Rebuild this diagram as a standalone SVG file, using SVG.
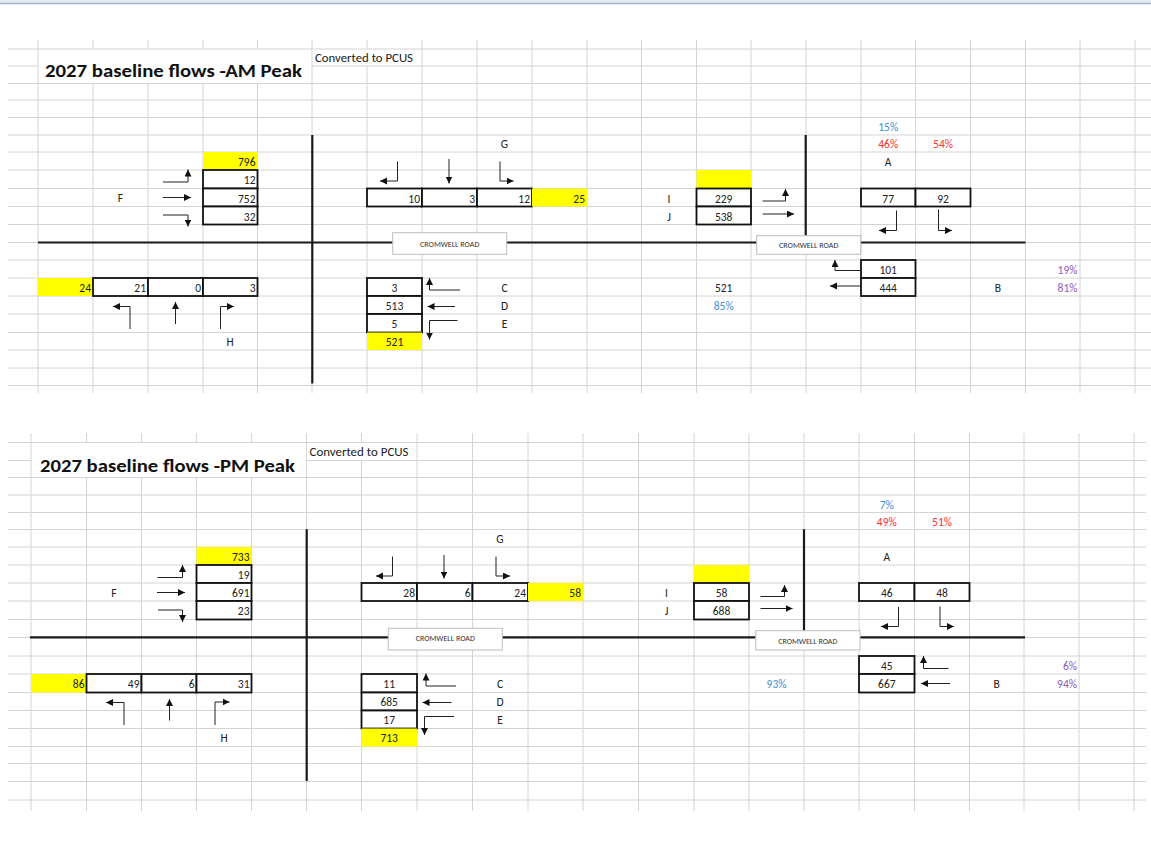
<svg xmlns="http://www.w3.org/2000/svg" width="1151" height="842" viewBox="0 0 1151 842">
<style>
.grid{fill:none;stroke:#d4d4d4;stroke-width:1}
.road{fill:none;stroke:#1a1a1a;stroke-width:2.2}
.box{fill:#fff;stroke:#111;stroke-width:1.8}
.yel{fill:#ffff00}
.rbox{fill:#fff;stroke:#bdbdbd;stroke-width:1}
text{font-family:Carlito,Calibri,Lato,"Liberation Sans",sans-serif;font-size:11.5px;fill:#222}
.r{text-anchor:end}
.c{text-anchor:middle}
.title{font-size:18px;font-weight:bold;fill:#111}
.rt{font-size:8px;text-anchor:middle;fill:#333}
.blue{fill:#3d8fd6}
.red{fill:#ff3030}
.pur{fill:#8e5bc0}
.arr{fill:none;stroke:#222;stroke-width:1;marker-end:url(#ah)}
</style>
<defs>
<marker id="ah" markerWidth="8" markerHeight="8" refX="7" refY="3.5" orient="auto" markerUnits="userSpaceOnUse"><path d="M0,0 L7,3.5 L0,7 z" fill="#111"/></marker>
</defs>
<rect width="1151" height="842" fill="#fff"/>
<rect x="0" y="0" width="1151" height="3" fill="#e3ebf3"/>
<line x1="0" y1="3.5" x2="1151" y2="3.5" stroke="#9fb6cc" stroke-width="1.5"/>

<g id="grid-am">
<path class="grid" d="M8,49H1151 M8,66H38 M312,66H1151 M8,83.5H1151 M8,100H1151 M8,117.5H1151 M8,135H1151 M8,152H1151 M8,170H1151 M8,188.5H1151 M8,206.5H1151 M8,224.5H1151 M8,242.5H1151 M8,260H1151 M8,278H1151 M8,296H1151 M8,314H1151 M8,332.5H1151 M8,350H1151 M8,368H1151 M8,385.5H1151"/>
<path class="grid" d="M38,40V393 M93,40V49 M93,83.5V393 M148,40V49 M148,83.5V393 M203,40V49 M203,83.5V393 M257.5,40V49 M257.5,83.5V393 M312,40V393 M367,40V49 M367,66V393 M422,40V393 M477,40V393 M532,40V393 M587,40V393 M641.5,40V393 M696.5,40V393 M751,40V393 M806,40V393 M861,40V393 M915.5,40V393 M970.5,40V393 M1025.5,40V393 M1080,40V393 M1135,40V393"/>
</g>
<g id="grid-pm">
<path class="grid" d="M8,442.5H1146 M8,460.5H31 M306.5,460.5H1146 M8,477.5H1146 M8,495H1146 M8,512.5H1146 M8,529.5H1146 M8,547H1146 M8,565H1146 M8,583H1146 M8,601H1146 M8,619.5H1146 M8,637.5H1146 M8,656H1146 M8,674H1146 M8,692.5H1146 M8,710.5H1146 M8,728.5H1146 M8,746.5H1146 M8,763.5H1146 M8,781.5H1146 M8,800H1146"/>
<path class="grid" d="M31,433V811 M86.5,433V442.5 M86.5,477.5V811 M141.5,433V442.5 M141.5,477.5V811 M196.5,433V442.5 M196.5,477.5V811 M251.5,433V442.5 M251.5,477.5V811 M306.5,433V811 M361.5,433V442.5 M361.5,460.5V811 M417,433V811 M472.5,433V811 M528,433V811 M583,433V811 M638.5,433V811 M694,433V811 M749,433V811 M804,433V811 M859,433V811 M914.5,433V811 M969.5,433V811 M1024,433V811 M1079,433V811 M1134,433V811"/>
</g>

<!-- ================= AM ================= -->
<g id="am-title">
<text class="title" x="45" y="77" textLength="257" lengthAdjust="spacingAndGlyphs">2027 baseline flows -AM Peak</text>
<text x="315" y="62" textLength="98" lengthAdjust="spacingAndGlyphs">Converted to PCUS</text>
</g>

<g id="am-roads">
<path class="road" d="M38,242.5H1025.5 M312.3,135V383.5 M805.7,135V242.5"/>
<rect class="rbox" x="392.7" y="232.7" width="114" height="21.6"/>
<text class="rt" x="449.7" y="246.5">CROMWELL ROAD</text>
<rect class="rbox" x="756.7" y="235.7" width="104" height="18.6"/>
<text class="rt" x="808.7" y="248">CROMWELL ROAD</text>
</g>

<g id="am-node-F">
<rect class="yel" x="203" y="152" width="54.5" height="18"/>
<rect class="box" x="203" y="170" width="54.5" height="18.5"/>
<rect class="box" x="203" y="188.5" width="54.5" height="18"/>
<rect class="box" x="203" y="206.5" width="54.5" height="18"/>
<text class="r" x="255.5" y="166">796</text>
<text class="r" x="255.5" y="184">12</text>
<text class="r" x="255.5" y="202.5">752</text>
<text class="r" x="255.5" y="220.5">32</text>
<text class="c" x="120.5" y="202">F</text>
</g>

<g id="am-node-H">
<rect class="yel" x="38" y="278" width="55" height="18"/>
<rect class="box" x="93" y="278" width="55" height="18"/>
<rect class="box" x="148" y="278" width="55" height="18"/>
<rect class="box" x="203" y="278" width="54.5" height="18"/>
<text class="r" x="91" y="292">24</text>
<text class="r" x="146" y="292">21</text>
<text class="r" x="201" y="292">0</text>
<text class="r" x="255.5" y="292">3</text>
<text class="c" x="230" y="346">H</text>
</g>

<g id="am-node-G">
<rect class="box" x="367" y="188.5" width="55" height="18"/>
<rect class="box" x="422" y="188.5" width="55" height="18"/>
<rect class="box" x="477" y="188.5" width="55" height="18"/>
<rect class="yel" x="532" y="188.5" width="55" height="18"/>
<text class="r" x="420" y="202.5">10</text>
<text class="r" x="475" y="202.5">3</text>
<text class="r" x="530" y="202.5">12</text>
<text class="r" x="585" y="202.5">25</text>
<text class="c" x="504.5" y="148">G</text>
</g>

<g id="am-node-CDE">
<rect class="box" x="367" y="278" width="55" height="18"/>
<rect class="box" x="367" y="296" width="55" height="18"/>
<rect class="box" x="367" y="314" width="55" height="18.5"/>
<rect class="yel" x="367" y="332.5" width="55" height="17.5"/>
<text class="c" x="394.5" y="292">3</text>
<text class="c" x="394.5" y="310">513</text>
<text class="c" x="394.5" y="328">5</text>
<text class="c" x="394.5" y="346">521</text>
<text class="c" x="504.5" y="292">C</text>
<text class="c" x="504.5" y="310">D</text>
<text class="c" x="504.5" y="328">E</text>
</g>

<g id="am-node-IJ">
<rect class="yel" x="696.5" y="170" width="54.5" height="18.5"/>
<rect class="box" x="696.5" y="188.5" width="54.5" height="18"/>
<rect class="box" x="696.5" y="206.5" width="54.5" height="18"/>
<text class="c" x="723.7" y="202.5">229</text>
<text class="c" x="723.7" y="220.5">538</text>
<text class="c" x="669" y="202.5">I</text>
<text class="c" x="669" y="220.5">J</text>
<text class="c" x="723.7" y="292">521</text>
<text class="c blue" x="723.7" y="310">85%</text>
</g>

<g id="am-node-A">
<rect class="box" x="861" y="188.5" width="54.5" height="18"/>
<rect class="box" x="915.5" y="188.5" width="55" height="18"/>
<text class="c" x="888.2" y="202.5">77</text>
<text class="c" x="943" y="202.5">92</text>
<text class="c blue" x="888.2" y="131">15%</text>
<text class="c red" x="888.2" y="148">46%</text>
<text class="c red" x="943" y="148">54%</text>
<text class="c" x="888.2" y="166">A</text>
</g>

<g id="am-node-B">
<rect class="box" x="861" y="260" width="54.5" height="18"/>
<rect class="box" x="861" y="278" width="54.5" height="18"/>
<text class="c" x="888.2" y="274">101</text>
<text class="c" x="888.2" y="292">444</text>
<text class="c" x="998" y="292">B</text>
<text class="r pur" x="1077.5" y="274">19%</text>
<text class="r pur" x="1077.5" y="292">81%</text>
</g>

<g id="am-connectors">
<path class="arr" d="M163,182H188V169.5"/>
<path class="arr" d="M163,197.5H191"/>
<path class="arr" d="M163,215H188V226.5"/>
<path class="arr" d="M130,329V306.5H113"/>
<path class="arr" d="M175.5,324V302"/>
<path class="arr" d="M220.5,329V306.5H234"/>
<path class="arr" d="M397.5,161.5V181H380"/>
<path class="arr" d="M449,159V183.5"/>
<path class="arr" d="M500,161.5V181H513.5"/>
<path class="arr" d="M460,290H429.5V278"/>
<path class="arr" d="M455,306.5H427.5"/>
<path class="arr" d="M457.5,320.5H429.5V339.5"/>
<path class="arr" d="M762.5,201H785.5V189"/>
<path class="arr" d="M762.5,214H794"/>
<path class="arr" d="M896.5,210.5V230.5H879"/>
<path class="arr" d="M938.5,209.5V230.5H952"/>
<path class="arr" d="M861,270.5H835V260"/>
<path class="arr" d="M861,286H830"/>
</g>

<!-- ================= PM ================= -->
<g id="pm-title">
<text class="title" x="40" y="472" textLength="255" lengthAdjust="spacingAndGlyphs">2027 baseline flows -PM Peak</text>
<text x="309.5" y="456" textLength="99" lengthAdjust="spacingAndGlyphs">Converted to PCUS</text>
</g>

<g id="pm-roads">
<path class="road" d="M30,637.3H1025 M306.7,529.3V781 M804,529.3V637.3"/>
<rect class="rbox" x="388.3" y="628.3" width="114" height="21.7"/>
<text class="rt" x="445.3" y="640.5">CROMWELL ROAD</text>
<rect class="rbox" x="755.7" y="630.7" width="104.3" height="19.3"/>
<text class="rt" x="807.8" y="643.5">CROMWELL ROAD</text>
</g>

<g id="pm-node-F">
<rect class="yel" x="196.5" y="547" width="55" height="18"/>
<rect class="box" x="196.5" y="565" width="55" height="18"/>
<rect class="box" x="196.5" y="583" width="55" height="18"/>
<rect class="box" x="196.5" y="601" width="55" height="18.5"/>
<text class="r" x="249.5" y="561">733</text>
<text class="r" x="249.5" y="579">19</text>
<text class="r" x="249.5" y="597">691</text>
<text class="r" x="249.5" y="615">23</text>
<text class="c" x="114" y="597">F</text>
</g>

<g id="pm-node-H">
<rect class="yel" x="31" y="674" width="55.5" height="18.5"/>
<rect class="box" x="86.5" y="674" width="55" height="18.5"/>
<rect class="box" x="141.5" y="674" width="55" height="18.5"/>
<rect class="box" x="196.5" y="674" width="55" height="18.5"/>
<text class="r" x="84.5" y="688">86</text>
<text class="r" x="139.5" y="688">49</text>
<text class="r" x="194.5" y="688">6</text>
<text class="r" x="249.5" y="688">31</text>
<text class="c" x="224" y="742">H</text>
</g>

<g id="pm-node-G">
<rect class="box" x="361.5" y="583" width="55.5" height="18"/>
<rect class="box" x="417" y="583" width="55.5" height="18"/>
<rect class="box" x="472.5" y="583" width="55.5" height="18"/>
<rect class="yel" x="528" y="583" width="55" height="18"/>
<text class="r" x="415" y="597">28</text>
<text class="r" x="470.5" y="597">6</text>
<text class="r" x="526" y="597">24</text>
<text class="r" x="581" y="597">58</text>
<text class="c" x="500" y="543">G</text>
</g>

<g id="pm-node-CDE">
<rect class="box" x="361.5" y="674" width="55.5" height="18.5"/>
<rect class="box" x="361.5" y="692.5" width="55.5" height="18"/>
<rect class="box" x="361.5" y="710.5" width="55.5" height="18"/>
<rect class="yel" x="361.5" y="728.5" width="55.5" height="18"/>
<text class="c" x="389.2" y="688">11</text>
<text class="c" x="389.2" y="706">685</text>
<text class="c" x="389.2" y="724">17</text>
<text class="c" x="389.2" y="742">713</text>
<text class="c" x="500" y="688">C</text>
<text class="c" x="500" y="706">D</text>
<text class="c" x="500" y="724">E</text>
</g>

<g id="pm-node-IJ">
<rect class="yel" x="694" y="565" width="55" height="18"/>
<rect class="box" x="694" y="583" width="55" height="18"/>
<rect class="box" x="694" y="601" width="55" height="18.5"/>
<text class="c" x="721.5" y="597">58</text>
<text class="c" x="721.5" y="615">688</text>
<text class="c" x="666.5" y="597">I</text>
<text class="c" x="666.5" y="615">J</text>
<text class="c blue" x="776.5" y="688">93%</text>
</g>

<g id="pm-node-A">
<rect class="box" x="859" y="583" width="55.5" height="18"/>
<rect class="box" x="914.5" y="583" width="55" height="18"/>
<text class="c" x="886.8" y="597">46</text>
<text class="c" x="942" y="597">48</text>
<text class="c blue" x="886.8" y="508.5">7%</text>
<text class="c red" x="886.8" y="526">49%</text>
<text class="c red" x="942" y="526">51%</text>
<text class="c" x="886.8" y="561">A</text>
</g>

<g id="pm-node-B">
<rect class="box" x="859" y="656" width="55.5" height="18"/>
<rect class="box" x="859" y="674" width="55.5" height="18.5"/>
<text class="c" x="886.8" y="670">45</text>
<text class="c" x="886.8" y="688">667</text>
<text class="c" x="996.7" y="688">B</text>
<text class="r pur" x="1077" y="670">6%</text>
<text class="r pur" x="1077" y="688">94%</text>
</g>

<g id="pm-connectors">
<path class="arr" d="M157.5,577.5H182.5V565"/>
<path class="arr" d="M157,592.5H185"/>
<path class="arr" d="M158,610H182.5V622"/>
<path class="arr" d="M124,725V702.5H106"/>
<path class="arr" d="M169.5,720.5V699"/>
<path class="arr" d="M215,725V702H229.5"/>
<path class="arr" d="M392.5,556.5V576H376"/>
<path class="arr" d="M444,555V578.5"/>
<path class="arr" d="M496,556.5V576H510"/>
<path class="arr" d="M456,686H426V673.5"/>
<path class="arr" d="M451.5,702.5H422.5"/>
<path class="arr" d="M454,716.5H424.5V735"/>
<path class="arr" d="M760.5,596.5H784.5V585"/>
<path class="arr" d="M760.5,608.5H792.5"/>
<path class="arr" d="M898.5,607V626.5H881"/>
<path class="arr" d="M940,606.5V626.5H954"/>
<path class="arr" d="M948.5,668.5H923.5V656"/>
<path class="arr" d="M950,683.5H921"/>
</g>
</svg>
